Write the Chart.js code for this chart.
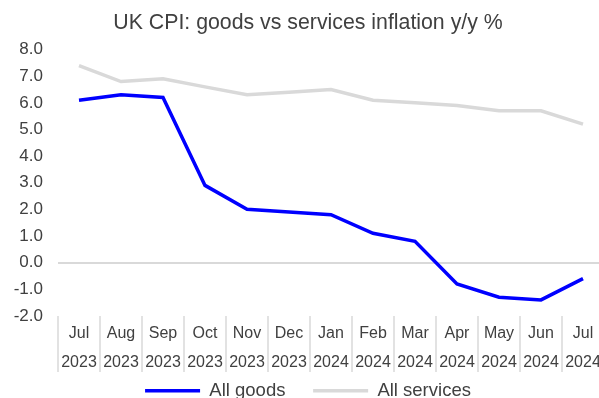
<!DOCTYPE html>
<html>
<head>
<meta charset="utf-8">
<script src="https://cdn.jsdelivr.net/npm/chart.js@4.4.1/dist/chart.umd.min.js"></script>
<style>
  html, body { margin: 0; padding: 0; background: #ffffff; overflow: hidden; }
  #wrap { width: 606px; height: 398px; }
</style>
</head>
<body>
<div id="wrap"><canvas id="cpi" width="606" height="398"></canvas></div>
<script>
// Month / year labels for the category axis
const months = ['Jul', 'Aug', 'Sep', 'Oct', 'Nov', 'Dec', 'Jan', 'Feb', 'Mar', 'Apr', 'May', 'Jun', 'Jul'];
const years  = ['2023', '2023', '2023', '2023', '2023', '2023', '2024', '2024', '2024', '2024', '2024', '2024', '2024'];

// Annual inflation rates, %
const allGoods    = [6.1, 6.3, 6.2, 2.9, 2.0, 1.9, 1.8, 1.1, 0.8, -0.8, -1.3, -1.4, -0.6];
const allServices = [7.4, 6.8, 6.9, 6.6, 6.3, 6.4, 6.5, 6.1, 6.0, 5.9, 5.7, 5.7, 5.2];

// Value axis range
const yMin = -2;
const yMax = 8;
const yStep = 1;

const labels = months.map((m, i) => [m, years[i]]);
const textColor = '#404040';
const lightGrey = '#D9D9D9';
const fontFamily = '"Liberation Sans", Arial, sans-serif';

// Thin vertical dividers between the category labels, placed from the x scale
const categoryDividers = {
  id: 'categoryDividers',
  afterDraw(chart) {
    const xs = chart.scales.x;
    const n = xs.ticks.length;
    if (!n) return;
    const half = n > 1 ? (xs.getPixelForTick(1) - xs.getPixelForTick(0)) / 2 : xs.width / 2;
    const ctx = chart.ctx;
    ctx.save();
    ctx.strokeStyle = lightGrey;
    ctx.lineWidth = 1.5;
    ctx.beginPath();
    for (let i = 0; i <= n; i++) {
      const x = i < n ? xs.getPixelForTick(i) - half : xs.getPixelForTick(n - 1) + half;
      ctx.moveTo(x, xs.top);
      ctx.lineTo(x, xs.top + 56);
    }
    ctx.stroke();
    ctx.restore();
  }
};

new Chart(document.getElementById('cpi'), {
  type: 'line',
  data: {
    labels: labels,
    datasets: [
      {
        label: 'All goods',
        data: allGoods,
        borderColor: '#0000FF',
        backgroundColor: '#0000FF',
        borderWidth: 3.5,
        pointRadius: 0,
        pointStyle: 'line',
        tension: 0
      },
      {
        label: 'All services',
        data: allServices,
        borderColor: lightGrey,
        backgroundColor: lightGrey,
        borderWidth: 3.5,
        pointRadius: 0,
        pointStyle: 'line',
        tension: 0
      }
    ]
  },
  options: {
    responsive: false,
    animation: false,
    devicePixelRatio: 1,
    layout: { padding: { left: 12, right: 2, top: 0, bottom: -12 } },
    plugins: {
      title: {
        display: true,
        text: 'UK CPI: goods vs services inflation y/y %',
        color: textColor,
        font: { family: fontFamily, size: 21.3, weight: 'normal' },
        padding: { top: 10, bottom: 14 }
      },
      legend: {
        display: true,
        position: 'bottom',
        labels: {
          usePointStyle: true,
          pointStyleWidth: 55,
          color: textColor,
          font: { family: fontFamily, size: 18.5 },
          padding: 2,
          // wider horizontal gap between entries without growing the legend's height
          generateLabels(chart) {
            const items = Chart.defaults.plugins.legend.labels.generateLabels(chart);
            items.forEach((item, i) => {
              if (i < items.length - 1) item.text += '     ';
            });
            return items;
          }
        }
      },
      tooltip: { enabled: false }
    },
    scales: {
      x: {
        type: 'category',
        offset: true,
        border: { display: false },
        grid: { display: false, drawTicks: false },
        ticks: {
          autoSkip: false,
          maxRotation: 0,
          minRotation: 0,
          padding: 3,
          color: textColor,
          font: { family: fontFamily, size: 16, lineHeight: 1.8 }
        }
      },
      y: {
        min: yMin,
        max: yMax,
        border: { display: false },
        afterFit: (scale) => { scale.width = 46; },
        grid: {
          drawTicks: false,
          color: (ctx) => (ctx.tick && ctx.tick.value === 0 ? lightGrey : 'rgba(0,0,0,0)'),
          lineWidth: 2
        },
        ticks: {
          stepSize: yStep,
          padding: 15,
          color: textColor,
          font: { family: fontFamily, size: 17 },
          callback: (v) => Number(v).toFixed(1)
        }
      }
    }
  },
  plugins: [categoryDividers]
});
</script>
</body>
</html>
